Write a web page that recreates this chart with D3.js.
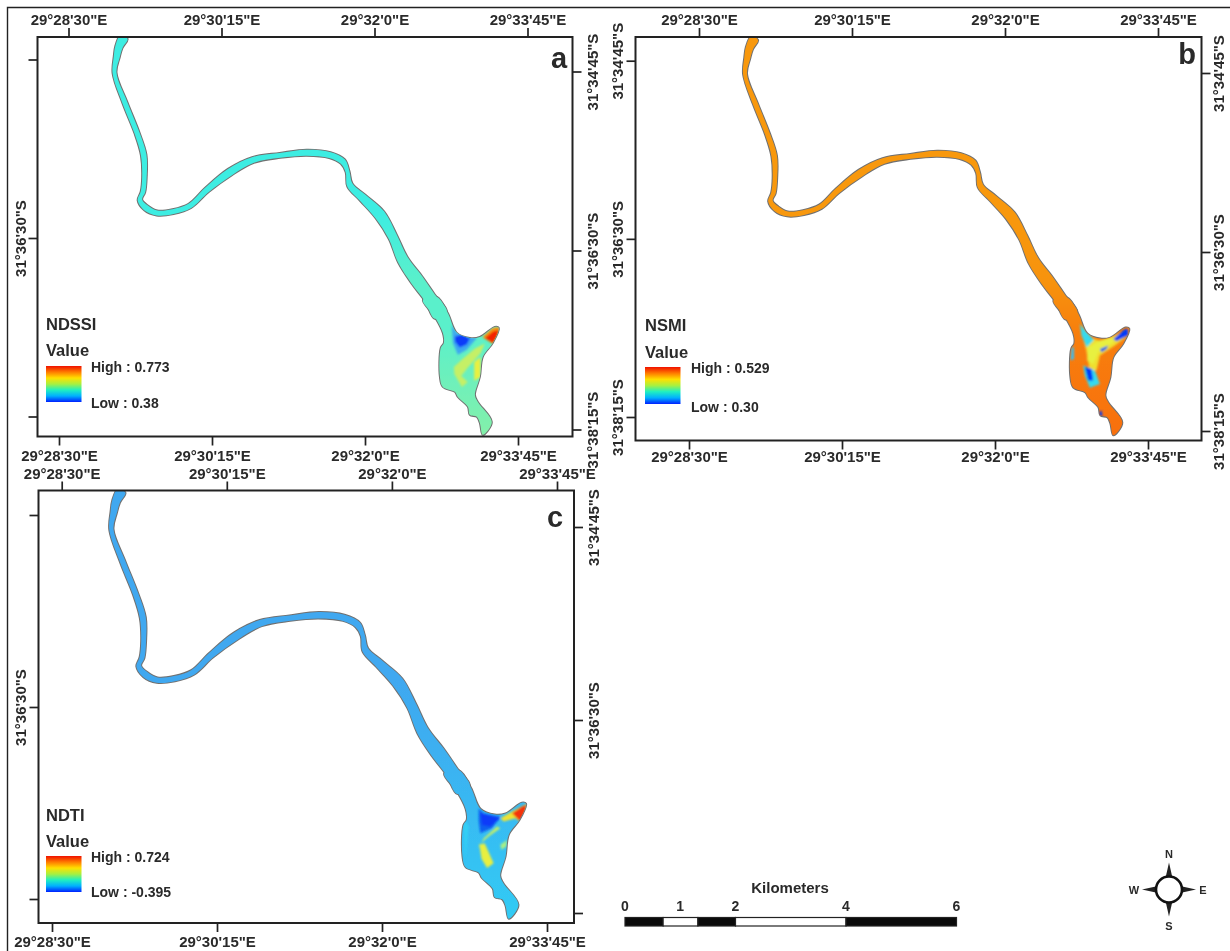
<!DOCTYPE html>
<html><head><meta charset="utf-8">
<script src="https://cdn.jsdelivr.net/npm/d3@7"></script>
<style>
html,body{margin:0;padding:0;background:#fff}
svg{filter:blur(.4px)}
text{font-family:"Liberation Sans",Arial,sans-serif;font-weight:bold;fill:#2a2a2a}
</style></head><body><svg id="c" width="1230" height="951"></svg>
<script>
// Graticule, in seconds of arc
const lonTicks=[1710,1815,1920,2025];           // 29°28'30" ... 29°33'45" E
const latTicks=[2085,2190,2295];                // 31°34'45" ... 31°38'15" S
// River reach: seconds east of 29°28'30", seconds south of 31°34'45", channel width
const channelLon=[38.1,34.6,33.1,31.6,38.8,47.0,51.6,52.1,51.1,49.0,53.2,60.7,71.7,83.3,95.0,110.8,126.6,145.1,163.4,179.4,188.3,191.5,193.1,202.0,213.7,222.6,229.5,239.1,248.0,255.5];
const channelLat=[-13.2,-7.4,-1.5,7.9,25.6,43.2,56.2,69.1,77.9,82.6,87.3,90.3,89.5,86.1,76.7,66.2,59.1,56.4,54.8,56.2,60.1,66.0,73.8,81.4,91.4,104.4,117.9,129.7,140.2,150.3];
const channelWidth=[5.5,5.1,4.1,2.7,3.4,3.4,3.8,3.1,3.1,3.1,4.1,3.4,3.4,3.4,3.8,5.1,4.1,3.4,4.1,4.1,4.1,2.7,4.1,5.5,7.5,6.2,7.5,8.9,8.2,9.6];
// Delta outline
const deltaLon=[243.2,251.4,256.9,257.6,255.5,254.9,256.9,265.2,267.2,274.1,275.4,280.2,282.3,284.3,290.5,280.9,278.9,282.3,284.3,291.2,295.3,292.6,282.3,275.4,266.5,260.3,252.8];
const deltaLat=[141.4,151.4,160.8,166.7,169.6,186.7,192.6,195.5,198.5,204.3,209.0,210.2,213.8,220.8,213.2,201.4,197.3,186.7,174.9,166.7,157.9,157.3,163.2,163.8,160.8,149.1,139.7];
// Index value along the river (by latitude offset) for the three maps
const gradientLat=[0,90,130,160,220];
const ndssiAlong=[.533,.533,.553,.553,.577];
const nsmiAlong=[.481,.481,.483,.49,.495];
const ndtiAlong=[-.149,-.149,-.13,-.11,-.07];
// Value zones in the delta: [value, lon,lat, lon,lat, ...]
const ndssiZones=[
 [.466, 263.1,156.1,266.5,160.8,280.2,163.8,273.3,170.8,267.2,173.7,263.8,166.7],
 [.40, 265.2,162.9,270,161.7,275.4,164.1,273.3,167.6,268.5,169.4,265.2,165.9],
 [.608, 264.5,180.9,270.6,176,278.9,170,285.7,167,282.8,172.8,273.8,181.5,269.5,186.2,274,189.7,270,192.6,264.8,185],
 [.624, 278.4,178,282.8,175,282.8,186.7,278.4,189],
 [.694, 296,157.2,291,157.8,284,163.2,291.2,167.4,295,163.5],
 [.761, 295.3,159,291.2,160,285.7,163.8,291.2,166.7,294,163.2]];
const nsmiZones=[
 [.45, 263.7,163,267.1,163,275.1,165,285.4,162,294.5,158.1,294.5,162,285.4,167.9,275.1,173.8,272.8,182.6,268,182,266,171.8],
 [.376, 261.4,155.2,271,164.6,266,168.9,262.5,162],
 [.376, 263.7,179.7,271.7,182.6,275.1,190.5,268.2,192.8,264.8,185.6],
 [.311, 264.8,180.7,269.4,181.6,270.5,188.5,267.1,188.5],
 [.442, 267,168.9,275.1,165,285.4,163,284.3,166,274,171.8,270.5,178.7,266.4,176.7],
 [.311, 294.5,158.1,292.3,158.1,284.3,164,286.5,165.4,294.5,162],
 [.327, 275.1,169.9,280.8,167.9,279.7,169.9,276.3,171.8],
 [.36, 255.7,168.9,257.3,168.9,257.3,175.8,255,176.7],
 [.311, 274.7,207.1,276.3,206.1,276.9,209.7,274.7,209.1]];
const ndtiZones=[
 [-.059, 256.7,166.7,258.8,170.4,256.7,188.6,255.6,170.4],
 [-.261, 265.2,160.4,268.4,163.1,279,164.9,273.7,171.3,266.2,174,265.2,167.6],
 [-.339, 266.2,163.1,279,165.8,272.6,170.4,267.3,169.5],
 [.254, 265.6,180.4,271.5,175.8,279,171.3,276.8,170.4,268.4,176.8,265.2,182.2],
 [.22, 279,180.4,283.2,177.7,282.8,181.3,279.6,183.1],
 [.30, 265.6,180.4,269,179.5,274.7,190.4,270.5,193,267,188],
 [.332, 296.4,157.6,286.4,162.2,279,165.8,281.1,167.6,288.5,165.8,291.3,167.6,295.5,162.2],
 [.668, 295.9,158.5,292.8,159.4,286.4,163.1,291.7,167.6,294.9,162.2]];
const legendStops=["#f01000","#ff7a00","#ffe000","#a8f040","#20f0c0","#00b0ff","#0020ff"];
const rampPos=[0,.12,.22,.3,.4,.52,.62,.72,.8,.9,1];
const rampCol=["#0020ff","#1060f0","#3fa8f0","#30d0f5","#3ff0e0","#90f0a0","#e8f040","#ffc010","#f7930f","#f85010","#f01000"];
// Scale bar
const barBreaks=[0,.69,1.32,2,4,6];
const barLabels=[[0,"0"],[1,"1"],[2,"2"],[4,"4"],[6,"6"]];

const panels=[
 {id:"a",name:"NDSSI",low:.38,high:.773,lowText:"Low : 0.38",highText:"High : 0.773",along:ndssiAlong,zones:ndssiZones,
  box:[37.5,37,572.5,436.5],top:[68.5,527.5],bot:[59,518],lef:[59.5,416.5],rig:[71.5,429.5],
  labT:19,labB:455,labL:20,labR:592,leftShow:[2190],rightShow:[2085,2190,2295],letter:[559,68],leg:[46,324,350,366,402,367,403,91]},
 {id:"b",name:"NSMI",low:.30,high:.529,lowText:"Low : 0.30",highText:"High : 0.529",along:nsmiAlong,zones:nsmiZones,
  box:[635.5,37,1201.5,440.5],top:[699,1158],bot:[689,1148],lef:[60.7,417],rig:[73,431],
  labT:19,labB:456,labL:617,labR:1218,leftShow:[2085,2190,2295],rightShow:[2085,2190,2295],letter:[1187,64],leg:[645,325,352,367,404,368,407,691]},
 {id:"c",name:"NDTI",low:-.395,high:.724,lowText:"Low : -0.395",highText:"High : 0.724",along:ndtiAlong,zones:ndtiZones,
  box:[38.5,490.5,574,923],top:[61.7,557],bot:[52,547],lef:[515,899],rig:[527,913],
  labT:473,labB:941,labL:20,labR:593,leftShow:[2190],rightShow:[2085,2190],letter:[555,527],leg:[46,815,841,856,892,857,892,91]}
];

const svg=d3.select("#c");
const defs=svg.append("defs");
const blur=defs.append("filter").attr("id","soft").attr("filterUnits","userSpaceOnUse").attr("x",0).attr("y",0).attr("width",1230).attr("height",951);
blur.append("feGaussianBlur").attr("stdDeviation",.5);
const blur2=defs.append("filter").attr("id","soft2").attr("filterUnits","userSpaceOnUse").attr("x",0).attr("y",0).attr("width",1230).attr("height",951);
blur2.append("feGaussianBlur").attr("stdDeviation",1.1);

// page frame
svg.append("path").attr("d","M7.5,951V7.5H1230").attr("fill","none").attr("stroke","#222").attr("stroke-width",1.4);

const ramp=d3.scaleLinear().domain(rampPos).range(rampCol).interpolate(d3.interpolateRgb);
const fmtLon=s=>`29°${Math.floor(s/60)}'${s%60}"E`;
const fmtLat=s=>`31°${Math.floor(s/60)}'${s%60}"S`;
const lonBase=1710, latBase=2085;

panels.forEach(p=>{
  const [x0,y0,x1,y1]=p.box;
  const lonDom=[lonTicks[0],lonTicks[3]], latDom=[latTicks[0],latTicks[2]];
  const xTop=d3.scaleLinear(lonDom,p.top), xBot=d3.scaleLinear(lonDom,p.bot);
  const yLef=d3.scaleLinear(latDom,p.lef), yRig=d3.scaleLinear(latDom,p.rig);
  const px=d=>xTop(lonBase+d), py=d=>yLef(latBase+d);
  const t=v=>(v-p.low)/(p.high-p.low);
  const g=svg.append("g");

  defs.append("clipPath").attr("id","clip"+p.id).append("rect").attr("x",x0).attr("y",y0).attr("width",x1-x0).attr("height",y1-y0);

  const grad=defs.append("linearGradient").attr("id","grad"+p.id).attr("gradientUnits","userSpaceOnUse")
    .attr("x1",0).attr("x2",0).attr("y1",py(gradientLat[0])).attr("y2",py(gradientLat[4]));
  gradientLat.forEach((l,i)=>grad.append("stop").attr("offset",l/gradientLat[4]).attr("stop-color",ramp(t(p.along[i]))));

  const pts=channelLon.map((l,i)=>[px(l),py(channelLat[i])]);
  const wScale=(p.top[1]-p.top[0])/315;
  const leftB=[],rightB=[];
  pts.forEach((q,i)=>{
    const a=pts[Math.max(0,i-1)],b=pts[Math.min(pts.length-1,i+1)];
    const dx=b[0]-a[0],dy=b[1]-a[1],n=Math.hypot(dx,dy)||1,h=channelWidth[i]*wScale/2;
    leftB.push([q[0]-dy/n*h,q[1]+dx/n*h]);
    rightB.push([q[0]+dy/n*h,q[1]-dx/n*h]);
  });
  const riverPath=d3.line().curve(d3.curveCatmullRomClosed)(leftB.concat(rightB.reverse()));
  const deltaPath=d3.line().curve(d3.curveCatmullRomClosed.alpha(.5))(deltaLon.map((l,i)=>[px(l),py(deltaLat[i])]));

  defs.append("clipPath").attr("id","shape"+p.id).append("path").attr("d",deltaPath);

  const map=g.append("g").attr("clip-path",`url(#clip${p.id})`).append("g").attr("filter","url(#soft)");
  [riverPath,deltaPath].forEach(d=>map.append("path").attr("d",d).attr("fill","none").attr("stroke","#707070").attr("stroke-width",2));
  [riverPath,deltaPath].forEach(d=>map.append("path").attr("d",d).attr("fill",`url(#grad${p.id})`));
  const zg=map.append("g").attr("clip-path",`url(#shape${p.id})`).append("g").attr("filter","url(#soft2)");
  p.zones.forEach(z=>{
    const poly=[];for(let i=1;i<z.length;i+=2)poly.push([px(z[i]),py(z[i+1])]);
    zg.append("path").attr("d",d3.line().curve(d3.curveLinearClosed)(poly)).attr("fill",ramp(t(z[0])));
  });

  g.append("rect").attr("x",x0).attr("y",y0).attr("width",x1-x0).attr("height",y1-y0)
    .attr("fill","none").attr("stroke","#222").attr("stroke-width",2);

  const style=(sel)=>{sel.select(".domain").remove();
    sel.selectAll("line").attr("stroke","#222").attr("stroke-width",1.7);
    sel.selectAll("text").style("font-size","15px").attr("fill","#2a2a2a");};
  const axT=g.append("g").attr("transform",`translate(0,${y0})`).call(d3.axisTop(xTop).tickValues(lonTicks).tickFormat(fmtLon).tickSize(9));
  axT.call(style);axT.selectAll("text").attr("dy",null).attr("text-anchor","middle").attr("dominant-baseline","central").attr("y",p.labT-y0);
  const axB=g.append("g").attr("transform",`translate(0,${y1})`).call(d3.axisBottom(xBot).tickValues(lonTicks).tickFormat(fmtLon).tickSize(9));
  axB.call(style);axB.selectAll("text").attr("dy",null).attr("dominant-baseline","central").attr("y",p.labB-y1);
  const axL=g.append("g").attr("transform",`translate(${x0},0)`).call(d3.axisLeft(yLef).tickValues(latTicks).tickFormat(fmtLat).tickSize(9));
  axL.call(style);axL.selectAll("text").attr("dy",null).attr("x",null).attr("text-anchor","middle").attr("dominant-baseline","central")
     .attr("transform",d=>`translate(${p.labL-x0},0) rotate(-90)`).style("display",d=>p.leftShow.includes(d)?null:"none");
  const axR=g.append("g").attr("transform",`translate(${x1},0)`).call(d3.axisRight(yRig).tickValues(latTicks).tickFormat(fmtLat).tickSize(9));
  axR.call(style);axR.selectAll("text").attr("dy",null).attr("x",null).attr("text-anchor","middle").attr("dominant-baseline","central")
     .attr("transform",d=>`translate(${p.labR-x1},0) rotate(-90)`).style("display",d=>p.rightShow.includes(d)?null:"none");

  g.append("text").attr("x",p.letter[0]).attr("y",p.letter[1]).attr("text-anchor","middle").style("font-size","29px").attr("fill","#222").text(p.id);

  const [lx,ty,vy,gy0,gy1,hy,ly,tx]=p.leg;
  const lg=defs.append("linearGradient").attr("id","leg"+p.id).attr("x1",0).attr("x2",0).attr("y1",0).attr("y2",1);
  legendStops.forEach((c,i)=>lg.append("stop").attr("offset",i/(legendStops.length-1)).attr("stop-color",c));
  g.append("rect").attr("x",lx).attr("y",gy0).attr("width",35.5).attr("height",gy1-gy0).attr("fill",`url(#leg${p.id})`);
  const txt=(x,y,s,fs)=>g.append("text").attr("x",x).attr("y",y).attr("dominant-baseline","central").style("font-size",fs+"px").text(s);
  txt(lx,ty,p.name,16.5);
  txt(lx,vy,"Value",16.5);
  txt(tx,hy,p.highText,14);
  txt(tx,ly,p.lowText,14);
});

const km=d3.scaleLinear([0,6],[625,956.5]);
const bar=svg.append("g");
d3.pairs(barBreaks).forEach(([a,b],i)=>{
  bar.append("rect").attr("x",km(a)).attr("y",917.5).attr("width",km(b)-km(a)).attr("height",8.5)
    .attr("fill",i%2?"#fff":"#0a0a0a").attr("stroke","#222").attr("stroke-width",1.2);
});
barLabels.forEach(([k,s])=>bar.append("text").attr("x",km(k)).attr("y",906).attr("text-anchor","middle").attr("dominant-baseline","central").style("font-size","14px").text(s));
bar.append("text").attr("x",790).attr("y",887).attr("text-anchor","middle").attr("dominant-baseline","central").style("font-size","15px").text("Kilometers");

const cmp=svg.append("g").attr("transform","translate(1169,889.5)");
[0,90,180,270].forEach(a=>{
  cmp.append("path").attr("transform",`rotate(${a})`).attr("d","M0,-27L3.6,-11L-3.6,-11Z").attr("fill","#222");
});
cmp.append("circle").attr("r",13).attr("fill","#fff").attr("stroke","#111").attr("stroke-width",2.6);
[["N",0,-36],["E",34,0],["S",0,36],["W",-35,0]].forEach(([s,x,y])=>
  cmp.append("text").attr("x",x).attr("y",y).attr("text-anchor","middle").attr("dominant-baseline","central").style("font-size","11px").attr("fill","#444").text(s));
</script></body></html>
